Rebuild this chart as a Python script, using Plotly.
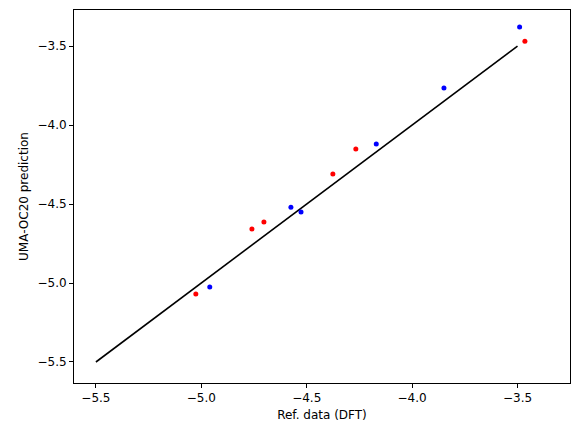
import plotly.graph_objects as go

blue_x = [-3.49, -3.849, -4.17, -4.575, -4.527, -4.96]
blue_y = [-3.38, -3.766, -4.12, -4.52, -4.55, -5.025]
red_x = [-3.465, -4.267, -4.376, -4.703, -4.76, -5.026]
red_y = [-3.47, -4.152, -4.31, -4.614, -4.658, -5.07]
line_x = [-5.5, -3.5]
line_y = [-5.5, -3.5]

fig = go.Figure()
fig.add_trace(go.Scatter(x=line_x, y=line_y, mode="lines", line=dict(color="black", width=1.6)))
fig.add_trace(go.Scatter(x=blue_x, y=blue_y, mode="markers", marker=dict(color="blue", size=5)))
fig.add_trace(go.Scatter(x=red_x, y=red_y, mode="markers", marker=dict(color="red", size=5)))

ax = dict(showgrid=False, zeroline=False, showline=True, linecolor="black", mirror=True,
          ticks="outside", ticklen=4, tickcolor="black", tickformat=".1f",
          tickfont=dict(size=12, color="black"))
fig.update_layout(
    width=579, height=433, showlegend=False, plot_bgcolor="white", paper_bgcolor="white",
    margin=dict(l=66, r=17, t=2, b=58),
    font=dict(family="DejaVu Sans", color="black"),
    xaxis=dict(ax, range=[-5.604, -3.251], dtick=0.5,
               title=dict(text="Ref. data (DFT)", font=dict(size=12), standoff=6)),
    yaxis=dict(ax, range=[-5.633, -3.272], dtick=0.5,
               title=dict(text="UMA-OC20 prediction", font=dict(size=12), standoff=6)),
)
fig.write_html("out.html")
